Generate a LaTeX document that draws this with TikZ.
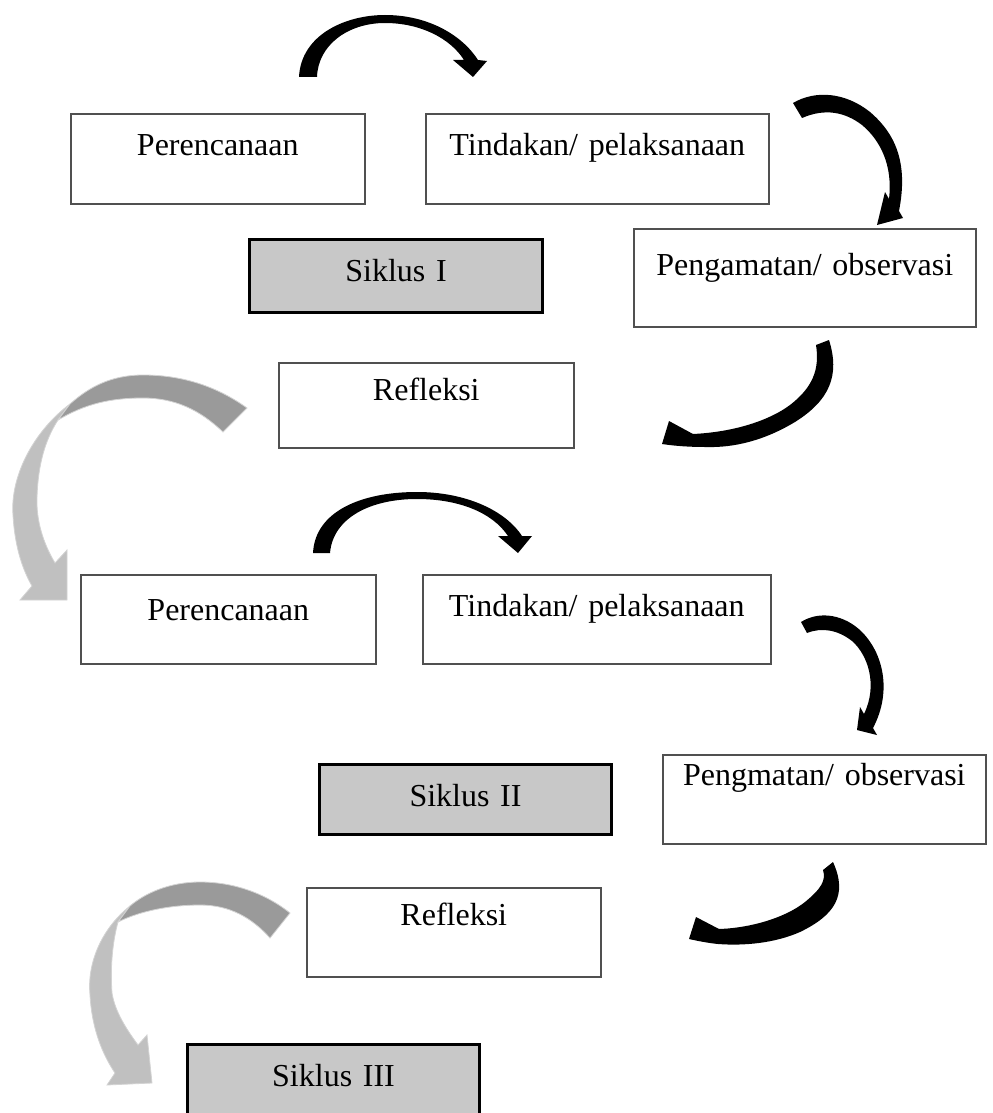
\documentclass[tikz,border=0pt]{standalone}
\usepackage{fontspec}
\setmainfont{Liberation Serif}
\definecolor{boxline}{HTML}{505050}
\definecolor{siklusfill}{HTML}{C8C8C8}
\definecolor{bandlight}{HTML}{C0C0C0}
\definecolor{banddark}{HTML}{9A9A9A}
\tikzset{
  tahap/.style={draw=boxline, line width=0.8pt, inner sep=0pt, align=center,
    anchor=north west, font=\fontsize{16}{19}\selectfont},
  siklus/.style={tahap, draw=black, line width=1.5pt, fill=siklusfill},
  band/.style={draw=bandlight!70!white, line width=0.4pt},
}

\begin{document}
\begin{tikzpicture}[x=0.5pt, y=-0.5pt]
  \useasboundingbox (0,0) rectangle (992,1113);
  % siklus I
  \node[tahap, text width=147pt, text height=21pt, text depth=24pt] (ren1) at (70,113) {Perencanaan};
  \node[tahap, text width=171.5pt, text height=21pt, text depth=24pt] (tin1) at (425,113) {Tindakan/ pelaksanaan};
  \node[siklus, text width=146.5pt, text height=21pt, text depth=15.5pt] (sik1) at (248,238) {Siklus I};
  \node[tahap, text width=171pt, text height=23.5pt, text depth=25.5pt] (obs1) at (633,228) {Pengamatan/ observasi};
  \node[tahap, text width=147.5pt, text height=19pt, text depth=23.5pt] (ref1) at (278,362) {Refleksi};
  % siklus II
  \node[tahap, text width=147.5pt, text height=23pt, text depth=21.5pt] (ren2) at (80,574) {Perencanaan};
  \node[tahap, text width=174pt, text height=21pt, text depth=23.5pt] (tin2) at (422,574) {Tindakan/ pelaksanaan};
  \node[siklus, text width=146pt, text height=21pt, text depth=14pt] (sik2) at (318,763) {Siklus II};
  \node[tahap, text width=161.5pt, text height=15.5pt, text depth=29pt] (obs2) at (662,754) {Pengmatan/ observasi};
  \node[tahap, text width=147pt, text height=19pt, text depth=25.5pt] (ref2) at (306,887) {Refleksi};
  \node[siklus, text width=146pt, text height=21pt, text depth=20pt] (sik3) at (186,1043) {Siklus III};

  % panah hitam, siklus I
  \fill (299,77) .. controls (301,35) and (345,15) .. (385,15) .. controls (428,15) and (462,35) .. (478,60)
    -- (487,61) -- (473,77) -- (453,60) -- (464,60)
    .. controls (450,38) and (420,23) .. (385,23) .. controls (348,23) and (318,45) .. (317,77) -- cycle;
  \fill (793,103) .. controls (815,90) and (845,92) .. (870,112) .. controls (897,135) and (908,165) .. (899,211)
    -- (903,218) -- (877,225) -- (885,192) -- (889,199)
    .. controls (893,165) and (880,140) .. (862,125) .. controls (845,112) and (825,108) .. (802,118) -- cycle;
  \fill (816,345) -- (829,340) .. controls (840,375) and (830,400) .. (795,422) .. controls (765,440) and (735,448) .. (705,447)
    .. controls (690,447) and (675,446) .. (662,444) -- (669,421) -- (693,434)
    .. controls (735,432) and (770,420) .. (790,405) .. controls (812,388) and (820,370) .. (816,345) -- cycle;
  % panah abu-abu ke siklus II
  \filldraw[band, fill=bandlight] (70,404) .. controls (35,430) and (10,475) .. (13,515) .. controls (15,550) and (24,572) .. (32,586)
    -- (20,600) -- (67,600) -- (67,550) -- (55,563)
    .. controls (43,543) and (36,520) .. (37,497) .. controls (38,465) and (45,440) .. (58,420) -- cycle;
  \filldraw[band, fill=banddark] (247,408) .. controls (215,385) and (180,375) .. (143,375) .. controls (110,375) and (88,388) .. (70,404)
    -- (58,420) .. controls (85,404) and (110,398) .. (143,398) .. controls (175,398) and (200,410) .. (223,432) -- cycle;

  % panah hitam, siklus II
  \fill (313,553) .. controls (315,512) and (360,492) .. (417,492) .. controls (465,492) and (505,510) .. (522,536)
    -- (532,536) -- (518,553) -- (498,536) -- (508,536)
    .. controls (492,512) and (458,499) .. (417,499) .. controls (370,499) and (333,518) .. (330,553) -- cycle;
  \fill (801,622) .. controls (820,610) and (845,615) .. (862,632) .. controls (882,652) and (893,690) .. (873,728)
    -- (877,735) -- (857,730) -- (860,707) -- (864,714)
    .. controls (878,685) and (868,655) .. (852,641) .. controls (838,630) and (822,627) .. (807,633) -- cycle;
  \fill (823,870) -- (833,862) .. controls (848,895) and (835,915) .. (800,932) .. controls (775,943) and (745,946) .. (718,944)
    .. controls (708,943) and (698,941) .. (689,939) -- (696,917) -- (719,929)
    .. controls (750,928) and (785,918) .. (805,902) .. controls (822,888) and (826,880) .. (823,870) -- cycle;
  % panah abu-abu ke siklus III
  \filldraw[band, fill=bandlight] (130,906) .. controls (100,930) and (87,965) .. (90,995) .. controls (92,1030) and (103,1055) .. (115,1073)
    -- (107,1085) -- (152,1083) -- (147,1035) -- (138,1045)
    .. controls (127,1030) and (115,1012) .. (112,993) .. controls (110,965) and (113,940) .. (118,922) -- cycle;
  \filldraw[band, fill=banddark] (290,913) .. controls (265,893) and (233,882) .. (200,882) .. controls (170,882) and (145,893) .. (130,906)
    -- (118,922) .. controls (140,911) and (170,905) .. (200,905) .. controls (230,905) and (252,918) .. (270,938) -- cycle;
\end{tikzpicture}
\end{document}
